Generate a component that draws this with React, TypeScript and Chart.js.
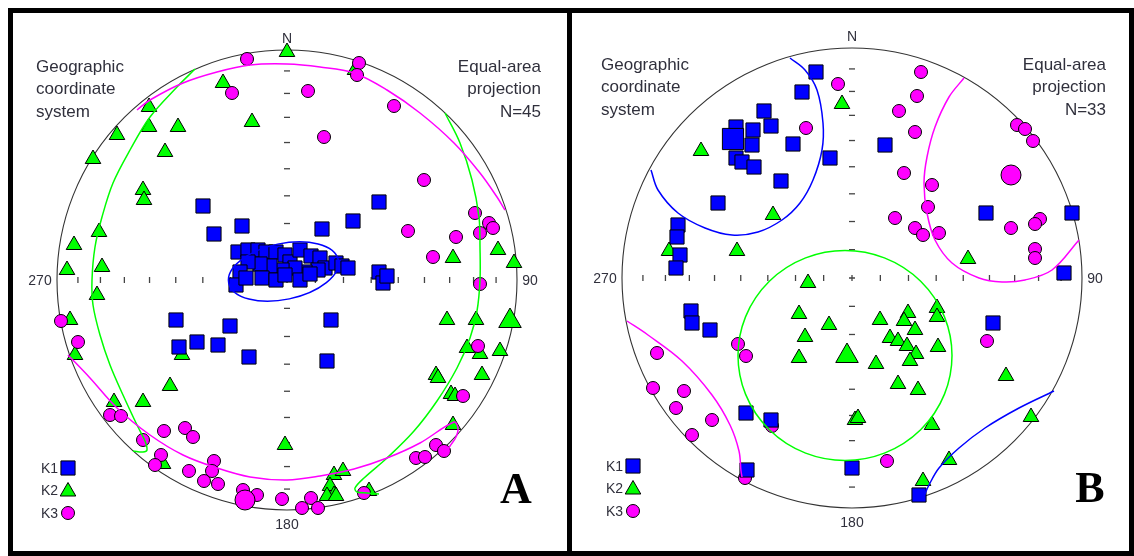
import React, { useEffect, useRef } from "react";
import { Chart, registerables } from "chart.js";
Chart.register(...registerables);

type P = [number, number];

// Projection units: primitive circle radius = 230, x = east, y = north
const PRIMITIVE = 230;
const TICK_PLUNGES = [10, 20, 30, 40, 50, 60, 70, 80];

// ---------- Panel A (N=45) ----------
const A_K1: P[] = [
  [-84, 74], [-73, 46], [-45, 54], [92, 78], [66, 59], [35, 51],
  [-49, 28], [-39, 30], [-29, 30], [-21, 28], [-11, 28], [-2, 25], [3, 18], [13, 30],
  [24, 24], [33, 22], [38, 12], [31, 10], [18, 8], [8, 12], [-5, 10], [-17, 14],
  [-27, 16], [-39, 18], [-47, 8], [-51, -5], [-41, 2], [-25, 2], [-11, 0], [-2, 5],
  [13, 0], [23, 6], [49, 17], [55, 14], [61, 12], [92, 8], [96, -3], [100, 4],
  [-111, -40], [-57, -46], [-90, -62], [-108, -67], [-69, -65], [-38, -77], [44, -40], [40, -81],
];
const A_K2: P[] = [
  [0, 228], [-64, 197], [68, 210], [-138, 173], [-138, 153], [-109, 153], [-170, 145],
  [-122, 128], [-35, 158], [-194, 121], [-144, 90], [-143, 80], [-188, 48], [-213, 35],
  [-185, 13], [-220, 10], [166, 22], [211, 30], [227, 17], [-190, -15], [-217, -40],
  [-212, -75], [-105, -75], [-117, -106], [-144, -122], [-173, -122], [-124, -184],
  [-2, -165], [160, -40], [189, -40], [180, -68], [193, -74], [213, -71], [195, -95],
  [149, -95], [151, -98], [164, -114], [168, -116], [166, -145], [47, -195], [56, -191],
  [43, -206], [47, -215], [40, -216], [49, -216], [82, -211],
];
const A_K3: P[] = [
  [-40, 221], [-55, 187], [72, 217], [70, 205], [21, 189], [107, 174], [37, 143],
  [137, 100], [188, 67], [202, 57], [206, 52], [193, 47], [121, 49], [169, 43], [146, 23],
  [193, -4], [-226, -41], [-209, -62], [-177, -135], [-166, -136], [-123, -151],
  [-102, -148], [-94, -157], [-144, -160], [-126, -175], [-132, -185], [-73, -181],
  [-98, -191], [-75, -191], [-83, -201], [-69, -204], [-44, -210], [-30, -215], [-5, -219],
  [191, -66], [176, -116], [149, -165], [157, -171], [129, -178], [138, -177], [77, -213],
  [24, -218], [15, -228], [31, -228],
];
const A_K1_MEAN: P[] = [];
const A_K2_MEAN: P[] = [[223, -41]];
const A_K3_MEAN: P[] = [[-42, -220]];
// confidence regions
const A_K1_ELLIPSE = [-3.5, 8.5, 56, 28, 12]; // centre x, centre y, semi-major, semi-minor, rotation (deg)
const A_K3_CONF_N: P[] = [
  [-150, 170], [-137, 180], [-104, 197], [-70, 208], [-37, 215], [0, 216], [33, 213],
  [67, 207], [100, 190], [133, 167], [167, 137], [193, 107], [210, 83], [218, 70],
];
const A_K3_CONF_S: P[] = [
  [-219, -75], [-197, -98], [-170, -128], [-137, -155], [-104, -175], [-70, -188],
  [-37, -197], [0, -200], [33, -196], [67, -189], [100, -178], [133, -163], [167, -142],
  [171, -148], [169, -157], [163, -166], [158, -174],
];
const A_K2_CONF_W: P[] = [
  [-92, 211], [-110, 193], [-137, 163], [-157, 130], [-174, 97], [-185, 63], [-192, 33],
  [-195, 0], [-194, -25], [-187, -55], [-177, -85], [-164, -115], [-150, -145],
  [-142, -161], [-140, -170], [-144, -172], [-154, -171],
];
const A_K2_CONF_E: P[] = [
  [158, 167], [173, 137], [185, 100], [192, 63], [193, 33], [193, 0], [190, -31],
  [183, -58], [170, -88], [150, -121], [127, -151], [100, -178], [77, -198], [68, -208],
  [70, -212], [80, -213], [92, -214],
];

// ---------- Panel B (N=33) ----------
const B_K1: P[] = [
  [-36, 206], [-50, 186], [-88, 167], [-81, 152], [-99, 148], [-116, 151], [-100, 133],
  [-59, 134], [-116, 120], [-110, 116], [-98, 111], [-22, 120], [-71, 97], [-134, 75],
  [-174, 53], [-175, 41], [-172, 23], [-176, 10], [33, 133], [134, 65], [220, 65], [212, 5],
  [-161, -33], [-160, -45], [-142, -52], [-106, -135], [-81, -142], [-105, -192], [0, -190],
  [141, -45], [67, -217],
];
const B_K2: P[] = [
  [-10, 174], [-151, 127], [-79, 63], [-183, 27], [-115, 27], [116, 19], [-44, -5],
  [-53, -36], [-23, -47], [-47, -59], [-53, -80], [28, -42], [56, -35], [52, -43], [85, -30],
  [85, -39], [63, -52], [38, -60], [46, -63], [55, -68], [64, -76], [58, -83], [86, -69],
  [24, -86], [46, -106], [66, -112], [3, -142], [6, -140], [80, -147], [154, -98],
  [179, -139], [97, -182], [71, -203],
];
const B_K3: P[] = [
  [-14, 194], [-46, 150], [69, 206], [65, 182], [47, 167], [63, 146], [52, 105], [80, 93],
  [76, 71], [43, 60], [63, 50], [71, 43], [87, 45], [165, 153], [173, 149], [181, 137],
  [159, 50], [188, 59], [183, 54], [183, 29], [183, 20], [-114, -66], [-106, -78],
  [-195, -75], [-199, -110], [-168, -113], [-176, -130], [-140, -142], [-160, -157],
  [-80, -148], [-107, -200], [135, -63], [35, -183],
];
const B_K1_MEAN: P[] = [[-119, 139]];
const B_K2_MEAN: P[] = [[-5, -78]];
const B_K3_MEAN: P[] = [[159, 103]];
const B_K2_ELLIPSE = [-7, -77.5, 107, 105, 0];
const B_K1_CONF_NW: P[] = [
  [-62, 220], [-47, 208], [-35, 188], [-29, 155], [-30, 128], [-39, 98], [-52, 75],
  [-70, 58], [-94, 46], [-120, 43], [-147, 50], [-174, 65], [-194, 88], [-201, 108],
];
const B_K1_CONF_SE: P[] = [
  [202, -113], [167, -130], [133, -150], [107, -170], [87, -190], [77, -207], [72, -218],
];
const B_K3_CONF_NE: P[] = [
  [112, 200], [97, 181], [83, 151], [75, 121], [72, 95], [75, 65], [83, 38], [100, 15],
  [127, 0], [150, -4], [173, -2], [200, 8], [227, 38],
];
const B_K3_CONF_SW: P[] = [
  [-225, -43], [-204, -57], [-170, -83], [-140, -117], [-122, -147], [-113, -173],
  [-111, -193], [-110, -199],
];

const BLUE = "#0000ff";
const GREEN = "#00ff00";
const MAGENTA = "#ff00ff";
const TEXT = "#30303c";
const FONT = "'Liberation Sans', Arial, sans-serif";

interface PanelDef {
  k1: P[]; k2: P[]; k3: P[];
  k1Mean: P[]; k2Mean: P[]; k3Mean: P[];
  curves: { pts: P[]; color: string }[];
  ellipses: { p: number[]; color: string }[];
  n: string;
  letter: string;
  letterPos: P;
}

const PANEL_A: PanelDef = {
  k1: A_K1, k2: A_K2, k3: A_K3,
  k1Mean: A_K1_MEAN, k2Mean: A_K2_MEAN, k3Mean: A_K3_MEAN,
  curves: [
    { pts: A_K3_CONF_N, color: MAGENTA },
    { pts: A_K3_CONF_S, color: MAGENTA },
    { pts: A_K2_CONF_W, color: GREEN },
    { pts: A_K2_CONF_E, color: GREEN },
  ],
  ellipses: [{ p: A_K1_ELLIPSE, color: BLUE }],
  n: "N=45",
  letter: "A",
  letterPos: [229, 212],
};

const PANEL_B: PanelDef = {
  k1: B_K1, k2: B_K2, k3: B_K3,
  k1Mean: B_K1_MEAN, k2Mean: B_K2_MEAN, k3Mean: B_K3_MEAN,
  curves: [
    { pts: B_K1_CONF_NW, color: BLUE },
    { pts: B_K1_CONF_SE, color: BLUE },
    { pts: B_K3_CONF_NE, color: MAGENTA },
    { pts: B_K3_CONF_SW, color: MAGENTA },
  ],
  ellipses: [{ p: B_K2_ELLIPSE, color: GREEN }],
  n: "N=33",
  letter: "B",
  letterPos: [238, 213],
};

const toXY = (a: P[]) => a.map(([x, y]) => ({ x, y }));

function drawMarker(ctx: CanvasRenderingContext2D, kind: string, x: number, y: number, r: number, color: string) {
  ctx.save();
  ctx.fillStyle = color;
  ctx.strokeStyle = "#000";
  ctx.lineWidth = 1;
  ctx.beginPath();
  if (kind === "rect") {
    const s = r * Math.SQRT1_2;
    ctx.rect(x - s, y - s, 2 * s, 2 * s);
  } else if (kind === "triangle") {
    ctx.moveTo(x, y - r);
    ctx.lineTo(x + r * 0.866, y + r * 0.5);
    ctx.lineTo(x - r * 0.866, y + r * 0.5);
    ctx.closePath();
  } else {
    ctx.arc(x, y, r, 0, Math.PI * 2);
  }
  ctx.fill();
  ctx.stroke();
  ctx.restore();
}

function makeConfig(def: PanelDef, pad: { left: number; right: number; top: number; bottom: number }) {
  const pts = (data: P[], style: string, color: string, r: number, order: number) => ({
    type: "scatter" as const,
    data: toXY(data),
    pointStyle: style,
    pointRadius: r,
    pointBackgroundColor: color,
    pointBorderColor: "#000",
    pointBorderWidth: 1,
    showLine: false,
    clip: false,
    order,
  });
  const datasets: any[] = [
    pts(def.k2, "triangle", GREEN, 9, 6),
    pts(def.k3, "circle", MAGENTA, 6.5, 5),
    pts(def.k1, "rect", BLUE, 10, 4),
    pts(def.k2Mean, "triangle", GREEN, 13, 3),
    pts(def.k3Mean, "circle", MAGENTA, 10, 3),
    pts(def.k1Mean, "rect", BLUE, 15, 3),
  ];
  def.curves.forEach((c) => {
    datasets.push({
      type: "scatter",
      data: toXY(c.pts),
      showLine: true,
      borderColor: c.color,
      borderWidth: 1.5,
      pointRadius: 0,
      tension: 0.35,
      fill: false,
      clip: false,
      order: 1,
    });
  });

  const stereoPlugin = {
    id: "stereo",
    beforeDatasetsDraw(chart: any) {
      const ctx: CanvasRenderingContext2D = chart.ctx;
      const xs = chart.scales.x, ys = chart.scales.y;
      const cx = xs.getPixelForValue(0), cy = ys.getPixelForValue(0);
      const R = xs.getPixelForValue(PRIMITIVE) - cx;
      ctx.save();
      ctx.strokeStyle = "#333";
      ctx.lineWidth = 1.1;
      ctx.beginPath();
      ctx.arc(cx, cy, R, 0, Math.PI * 2);
      ctx.stroke();
      ctx.lineWidth = 1.3;
      ctx.strokeStyle = "#444";
      TICK_PLUNGES.forEach((p) => {
        const r = PRIMITIVE * Math.SQRT2 * Math.sin(((90 - p) / 2) * Math.PI / 180);
        [-1, 1].forEach((s) => {
          const px = xs.getPixelForValue(s * r);
          ctx.beginPath(); ctx.moveTo(px, cy - 3); ctx.lineTo(px, cy + 3); ctx.stroke();
          const py = ys.getPixelForValue(s * r);
          ctx.beginPath(); ctx.moveTo(cx - 3, py); ctx.lineTo(cx + 3, py); ctx.stroke();
        });
      });
      ctx.beginPath();
      ctx.moveTo(cx - 3, cy); ctx.lineTo(cx + 3, cy);
      ctx.moveTo(cx, cy - 3); ctx.lineTo(cx, cy + 3);
      ctx.stroke();
      ctx.restore();
    },
    afterDatasetsDraw(chart: any) {
      const ctx: CanvasRenderingContext2D = chart.ctx;
      const xs = chart.scales.x, ys = chart.scales.y;
      const cx = xs.getPixelForValue(0), cy = ys.getPixelForValue(0);
      const kx = xs.getPixelForValue(1) - cx;
      const ky = cy - ys.getPixelForValue(1);
      ctx.save();
      def.ellipses.forEach((e) => {
        const [ex, ey, a, b, rot] = e.p;
        ctx.strokeStyle = e.color;
        ctx.lineWidth = 1.5;
        ctx.beginPath();
        ctx.ellipse(xs.getPixelForValue(ex), ys.getPixelForValue(ey), a * kx, b * ky, (-rot * Math.PI) / 180, 0, Math.PI * 2);
        ctx.stroke();
      });
      // texts
      ctx.fillStyle = TEXT;
      ctx.textBaseline = "middle";
      ctx.font = `17px ${FONT}`;
      ctx.textAlign = "left";
      ["Geographic", "coordinate", "system"].forEach((t, i) => ctx.fillText(t, cx - 251, cy - 213 + i * 22.5));
      ctx.textAlign = "right";
      ["Equal-area", "projection", def.n].forEach((t, i) => ctx.fillText(t, cx + 254, cy - 213 + i * 22.5));
      ctx.font = `14px ${FONT}`;
      ctx.textAlign = "center";
      ctx.fillText("N", cx, cy - 241);
      ctx.fillText("180", cx, cy + 245);
      ctx.fillText("270", cx - 247, cy + 1);
      ctx.fillText("90", cx + 243, cy + 1);
      // legend
      const leg: [string, string, string, number][] = [
        ["K1", "rect", BLUE, 10],
        ["K2", "triangle", GREEN, 9],
        ["K3", "circle", MAGENTA, 6.5],
      ];
      leg.forEach(([t, kind, col, r], i) => {
        const y = cy + 188 + i * 22.5;
        ctx.fillStyle = TEXT;
        ctx.textAlign = "right";
        ctx.font = `14px ${FONT}`;
        ctx.fillText(t, cx - 229, y + 1);
        drawMarker(ctx, kind, cx - 219, y + (kind === "triangle" ? 1 : 0), r, col);
      });
      // panel letter
      ctx.fillStyle = "#000";
      ctx.textAlign = "center";
      ctx.font = `bold 44px 'Liberation Serif', 'Times New Roman', serif`;
      ctx.fillText(def.letter, cx + def.letterPos[0], cy + def.letterPos[1]);
      ctx.restore();
    },
  };

  return {
    type: "scatter" as const,
    data: { datasets },
    options: {
      animation: false as const,
      responsive: false,
      maintainAspectRatio: false,
      devicePixelRatio: 1,
      events: [],
      layout: { padding: pad },
      scales: {
        x: { type: "linear" as const, min: -PRIMITIVE, max: PRIMITIVE, display: false },
        y: { type: "linear" as const, min: -PRIMITIVE, max: PRIMITIVE, display: false },
      },
      plugins: { legend: { display: false }, tooltip: { enabled: false } },
    },
    plugins: [stereoPlugin],
  };
}

function Stereonet(props: { def: PanelDef; left: number; width: number; height: number; pad: any }) {
  const ref = useRef<HTMLCanvasElement>(null);
  useEffect(() => {
    const chart = new Chart(ref.current as HTMLCanvasElement, makeConfig(props.def, props.pad) as any);
    return () => chart.destroy();
  }, []);
  return (
    <canvas
      ref={ref}
      width={props.width}
      height={props.height}
      style={{ position: "absolute", left: props.left, top: 0, width: props.width, height: props.height }}
    />
  );
}

const bar = (left: number, top: number, width: number, height: number): React.CSSProperties => ({
  position: "absolute", left, top, width, height, background: "#000",
});

export default function App() {
  return (
    <div style={{ position: "fixed", left: 0, top: 0, width: 1134, height: 556, background: "#fff", overflow: "hidden" }}>
      <Stereonet def={PANEL_A} left={0} width={567} height={556} pad={{ left: 57, top: 50, right: 50, bottom: 46 }} />
      <Stereonet def={PANEL_B} left={567} width={567} height={556} pad={{ left: 55, top: 48, right: 52, bottom: 48 }} />
      <div style={bar(8, 8, 1126, 5)} />
      <div style={bar(8, 551, 1126, 5)} />
      <div style={bar(8, 8, 5, 548)} />
      <div style={bar(1129, 8, 5, 548)} />
      <div style={bar(567, 8, 5, 548)} />
    </div>
  );
}
